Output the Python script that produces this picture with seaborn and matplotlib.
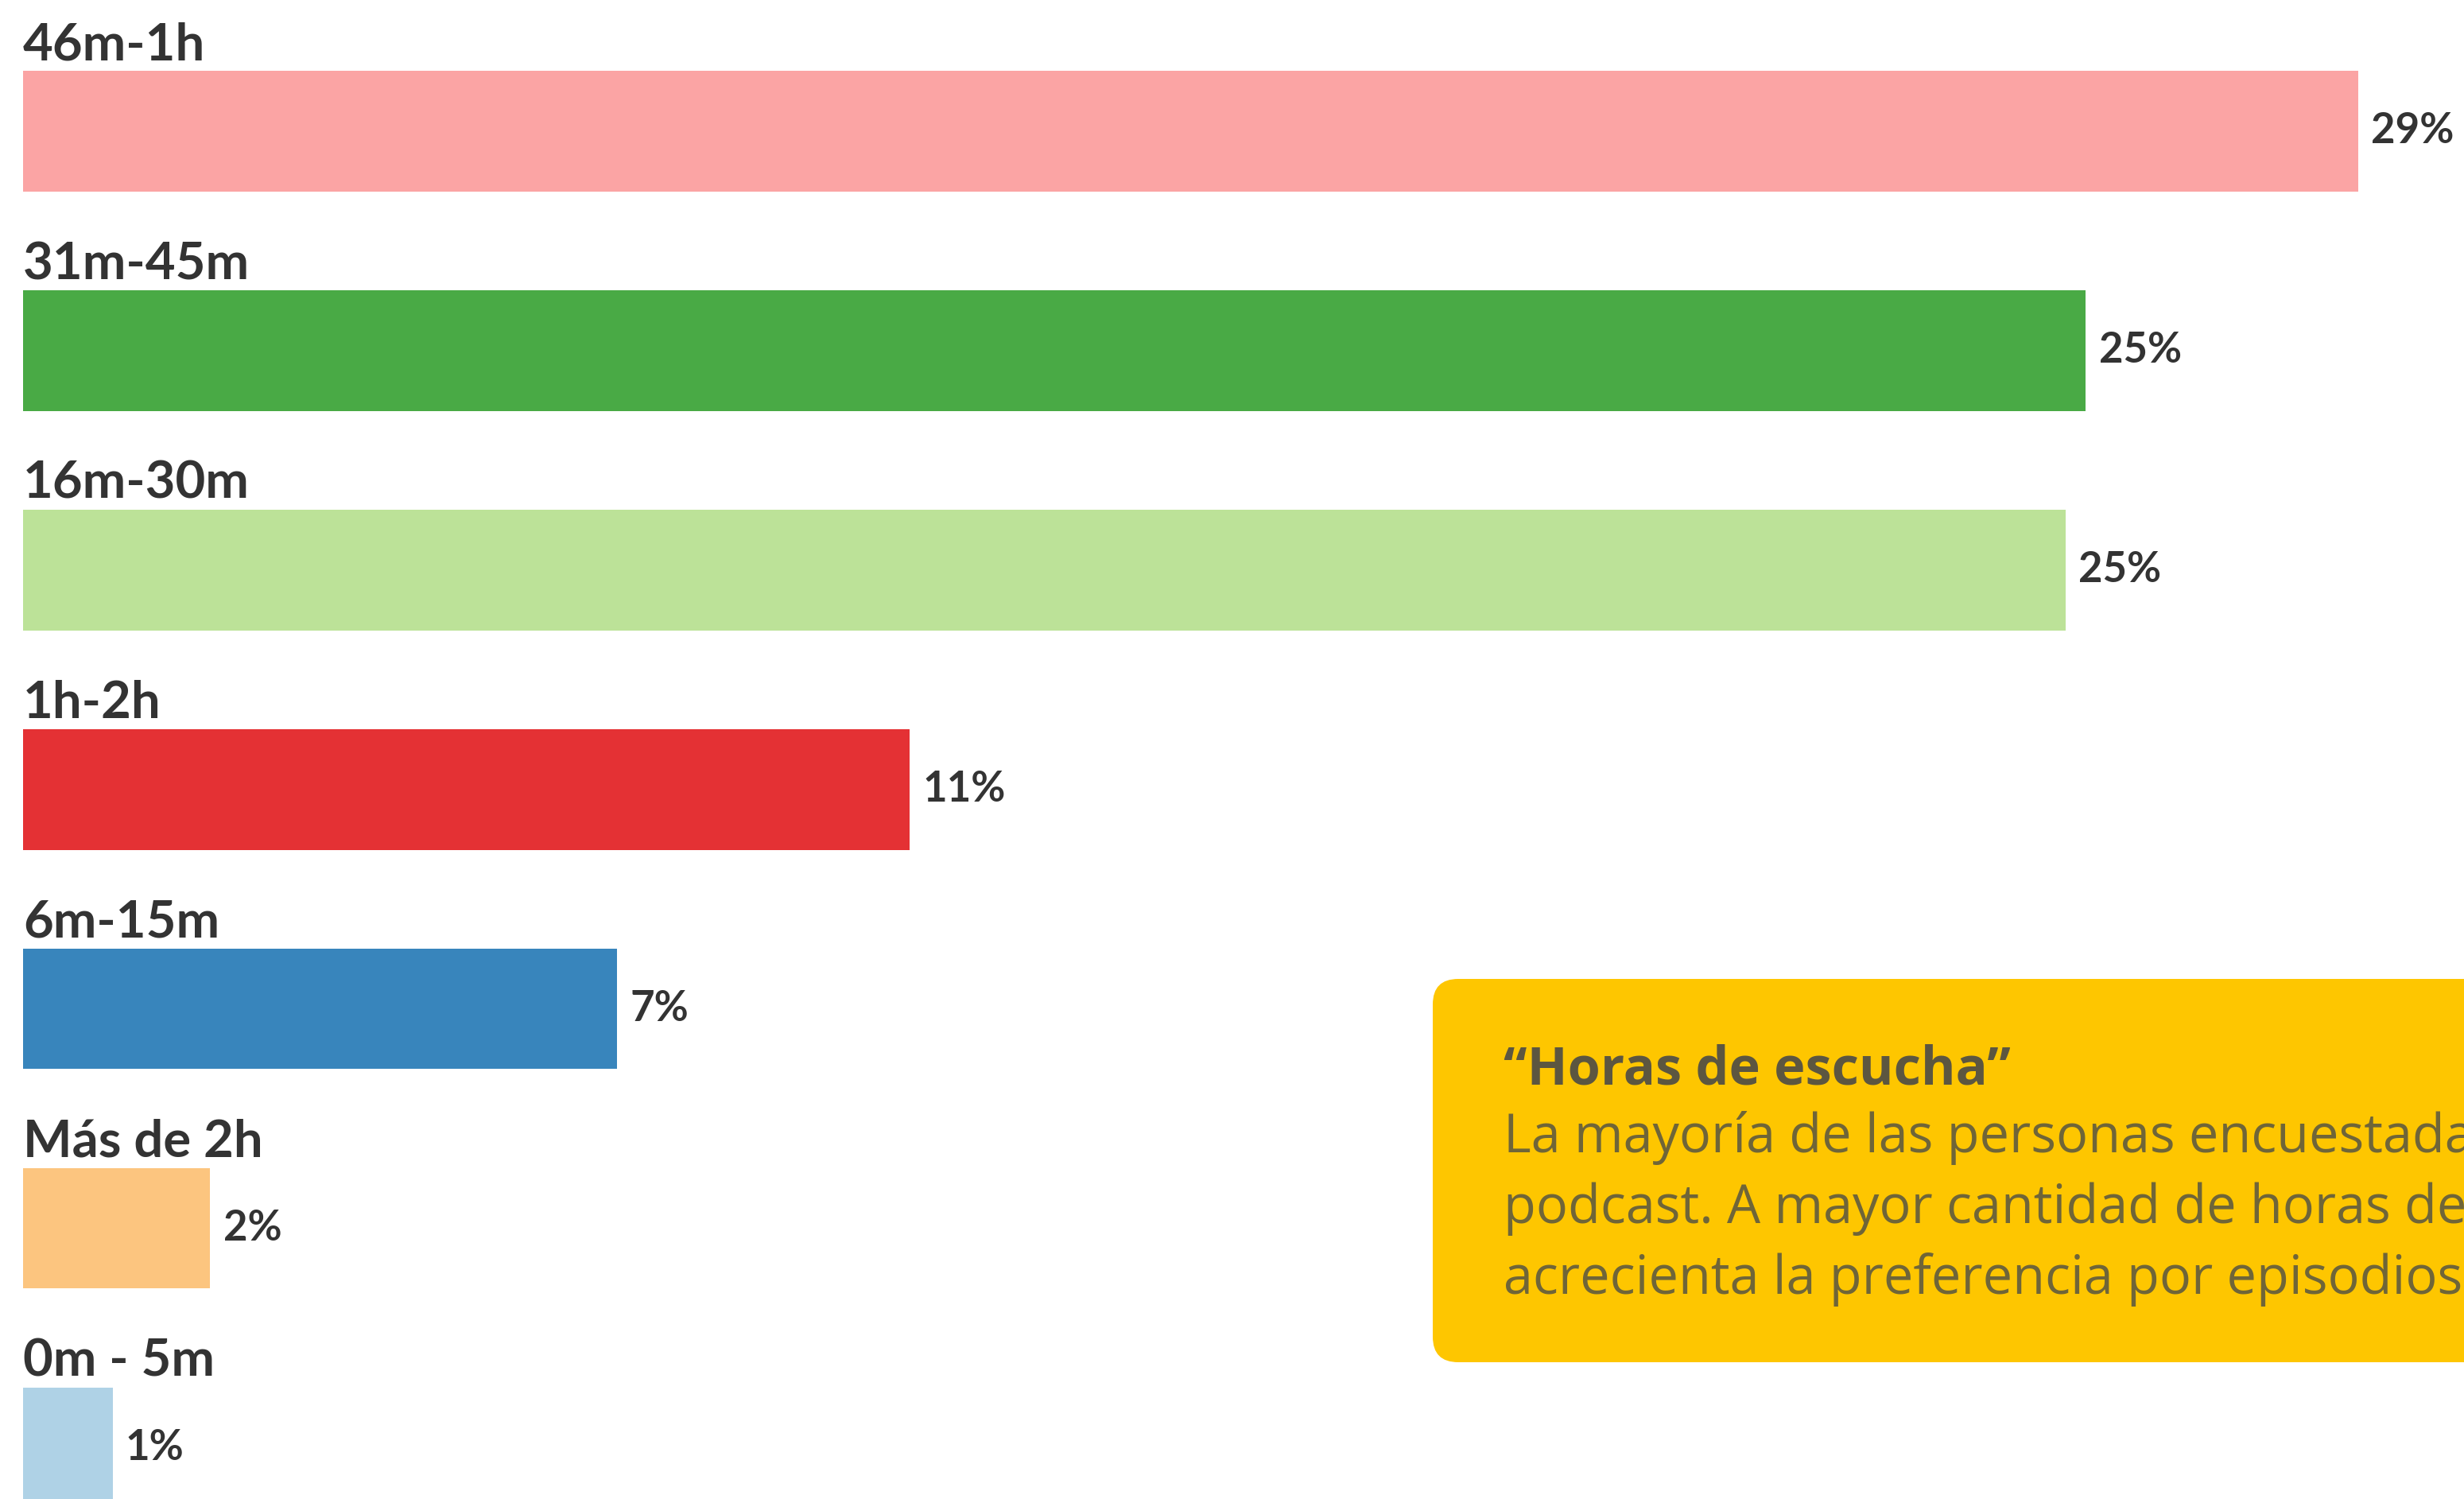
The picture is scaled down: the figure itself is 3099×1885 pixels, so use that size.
import matplotlib
matplotlib.use('Agg')
import matplotlib.pyplot as plt
import matplotlib.patches as mpatches
import matplotlib.transforms as mtransforms
import pandas as pd
import seaborn as sns

# datos
categorias = ['46m-1h', '31m-45m', '16m-30m', '1h-2h', '6m-15m', 'Más de 2h', '0m - 5m']
porcentajes = [28.7, 25.35, 25.1, 10.9, 7.3, 2.3, 1.1]
etiquetas = ['29%', '25%', '25%', '11%', '7%', '2%', '1%']
colores = ['#FBA4A4', '#49AA45', '#BCE298', '#E43134', '#3885BC', '#FCC57F', '#AFD2E6']

titulo_caja = '\u201cHoras de escucha\u201d'
texto_caja = ['La mayoría de las personas encuestada',
              'podcast. A mayor cantidad de horas de',
              'acrecienta la preferencia por episodios']

sns.set_theme(style='white')
plt.rcParams['font.family'] = ['Lato', 'DejaVu Sans']

W, H = 3099, 1885
fig = plt.figure(figsize=(W / 100, H / 100), dpi=100)
fig.patch.set_facecolor('white')
ax = fig.add_axes([29 / W, 0, 1 - 29 / W, 1])

df = pd.DataFrame({'cat': categorias, 'pct': porcentajes})
sns.barplot(data=df, x='pct', y='cat', hue='cat', palette=colores, orient='h',
            width=0.55, saturation=1, legend=False, linewidth=0, ax=ax)

# escala: fila 0 centrada a 165 px del borde superior, paso 276 px
paso = 275.9
ax.set_ylim((H - 165) / paso, -165 / paso)
ax.set_xlim(0, 30.0)
ax.axis('off')

for i, (cat, v, lab) in enumerate(zip(categorias, porcentajes, etiquetas)):
    ax.text(0, i - 0.275 - 14 / paso, cat, ha='left', va='baseline',
            fontsize=47, fontweight='bold', color='#333333')
    ax.text(v + 0.16, i, lab, ha='left', va='center',
            fontsize=38, fontweight='bold', color='#333333')

# caja amarilla con el comentario
caja = mpatches.FancyBboxPatch((1802, H - 1713), 1400, 482,
                               boxstyle='round,pad=0,rounding_size=32',
                               facecolor='#FEC600', edgecolor='none',
                               transform=mtransforms.IdentityTransform())
fig.patches.append(caja)

x0 = 1891 / W
fig.text(x0, 1 - 1364 / H, titulo_caja, ha='left', va='baseline',
         fontsize=48, fontweight='bold', color='#5c5640',
         family=['Open Sans', 'DejaVu Sans'])
for k, linea in enumerate(texto_caja):
    fig.text(x0, 1 - (1449 + 89 * k) / H, linea, ha='left', va='baseline',
             fontsize=48, color='#6f6538', family=['Open Sans', 'DejaVu Sans'])

fig.savefig('out.png', dpi=100)
